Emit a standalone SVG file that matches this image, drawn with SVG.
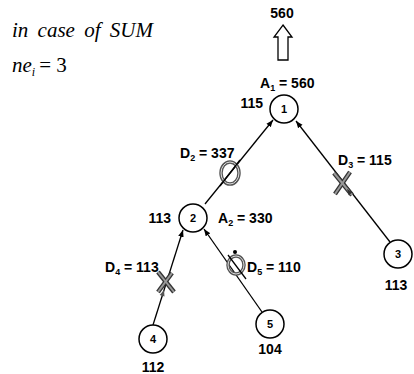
<svg xmlns="http://www.w3.org/2000/svg" width="414" height="374" viewBox="0 0 414 374">
<defs>
<marker id="ah" viewBox="0 0 10 10" refX="10" refY="5" markerWidth="7" markerHeight="7" orient="auto" markerUnits="userSpaceOnUse">
<path d="M0,1 L10,5 L0,9 Z" fill="#000"/>
</marker>
</defs>
<style>
.node circle{fill:#fff;stroke:#000;stroke-width:1.5}
.nl{font-family:"Liberation Sans",Arial,sans-serif;font-weight:bold;font-size:11px;text-anchor:middle}
.lb{font-family:"Liberation Sans",Arial,sans-serif;font-weight:bold;font-size:14px;fill:#000}
.sub{font-size:9px}
.edge{stroke:#000;stroke-width:1.3;fill:none;marker-end:url(#ah)}
.ring{fill:none;stroke:#555;stroke-width:3.5}
.ring2{fill:none;stroke:#ddd;stroke-width:1}
.xo{stroke:#333;stroke-width:4.5;stroke-linecap:butt}
.xi{stroke:#999;stroke-width:2}
.it{font-family:"Liberation Serif","Times New Roman",serif;font-style:italic;font-size:21px}
</style>
<text class="it" x="12" y="37" word-spacing="4">in case of  SUM</text>
<text class="it" x="12" y="72">ne<tspan font-size="12" dy="4">i</tspan><tspan font-style="normal" dy="-4" dx="4">= 3</tspan></text>

<text class="lb" x="282" y="18" text-anchor="middle">560</text>
<path d="M283,25 L292,37 L288,37 L288,60 L278,60 L278,37 L274,37 Z" fill="#fff" stroke="#000" stroke-width="1.3"/>

<g id="connectors">
<line class="edge" x1="205" y1="204" x2="273" y2="120"/>
<line class="edge" x1="390" y1="242" x2="296" y2="121"/>
<line class="edge" x1="153" y1="325" x2="183" y2="230"/>
<line class="edge" x1="262" y1="312" x2="204" y2="229"/>
</g>

<g id="marks">
<ellipse class="ring" cx="230" cy="173" rx="9" ry="11"/>
<ellipse class="ring2" cx="230" cy="173" rx="9" ry="11"/>
<line x1="220" y1="186" x2="240" y2="160" stroke="#000" stroke-width="1.3"/>
<ellipse class="ring" cx="236" cy="265" rx="8" ry="9"/>
<ellipse class="ring2" cx="236" cy="265" rx="8" ry="9"/>
<circle cx="235" cy="252" r="2" fill="#000"/>
<line x1="228" y1="255" x2="246" y2="279" stroke="#000" stroke-width="1.3"/>
<g>
<line class="xo" x1="334" y1="173" x2="352" y2="195"/>
<line class="xo" x1="350" y1="172" x2="335" y2="194"/>
<line class="xi" x1="334" y1="173" x2="352" y2="195"/>
<line class="xi" x1="350" y1="172" x2="335" y2="194"/>
<path d="M347,189 L352.7,192.2 L348.7,195.2 Z" fill="#333"/>
</g>
<g>
<line class="xo" x1="158" y1="272" x2="174" y2="292"/>
<line class="xo" x1="172" y1="273" x2="158" y2="292"/>
<line class="xi" x1="158" y1="272" x2="174" y2="292"/>
<line class="xi" x1="172" y1="273" x2="158" y2="292"/>
<path d="M164,290 L164.5,296.5 L159.7,294.9 Z" fill="#555"/>
</g>
</g>

<g id="n1" class="node"><circle cx="284" cy="109" r="14"/><text class="nl" x="284" y="113">1</text></g>
<g id="n2" class="node"><circle cx="193" cy="218" r="14"/><text class="nl" x="193" y="222">2</text></g>
<g id="n3" class="node"><circle cx="398" cy="254" r="14"/><text class="nl" x="398" y="258">3</text></g>
<g id="n4" class="node"><circle cx="153" cy="339" r="14"/><text class="nl" x="153" y="343">4</text></g>
<g id="n5" class="node"><circle cx="270" cy="324" r="14"/><text class="nl" x="270" y="328">5</text></g>

<g id="labels">
<text class="lb" x="260" y="88">A<tspan class="sub" dy="3">1</tspan><tspan dy="-3"> = 560</tspan></text>
<text class="lb" x="263" y="108" text-anchor="end">115</text>
<text class="lb" x="180" y="158">D<tspan class="sub" dy="3">2</tspan><tspan dy="-3"> = 337</tspan></text>
<text class="lb" x="338" y="165">D<tspan class="sub" dy="3">3</tspan><tspan dy="-3"> = 115</tspan></text>
<text class="lb" x="171" y="223" text-anchor="end">113</text>
<text class="lb" x="218" y="223">A<tspan class="sub" dy="3">2</tspan><tspan dy="-3"> = 330</tspan></text>
<text class="lb" x="105" y="272">D<tspan class="sub" dy="3">4</tspan><tspan dy="-3"> = 113</tspan></text>
<text class="lb" x="247" y="272">D<tspan class="sub" dy="3">5</tspan><tspan dy="-3"> = 110</tspan></text>
<text class="lb" x="396" y="290" text-anchor="middle">113</text>
<text class="lb" x="270" y="354" text-anchor="middle">104</text>
<text class="lb" x="153" y="372" text-anchor="middle">112</text>
</g>
</svg>
